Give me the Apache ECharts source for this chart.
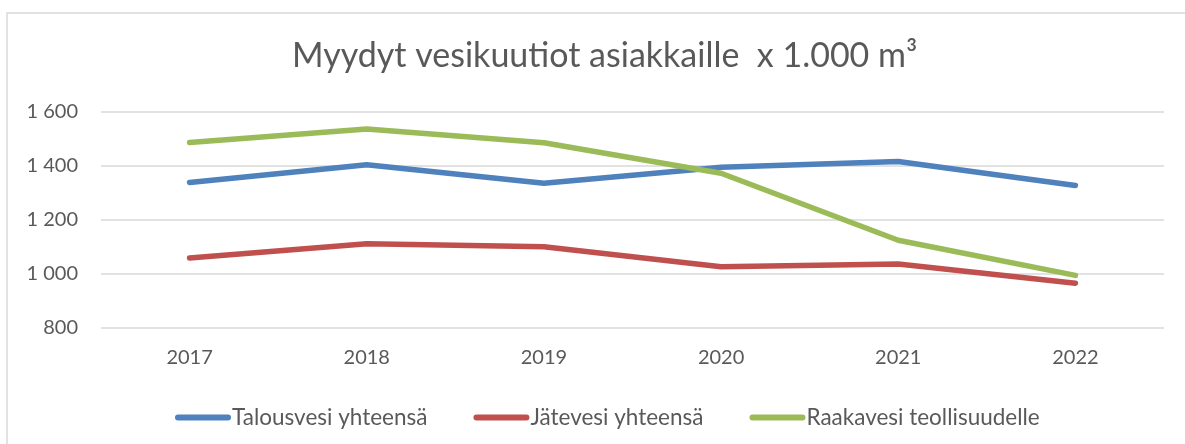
<!DOCTYPE html>
<html>
<head>
<meta charset="utf-8">
<script src="https://cdn.jsdelivr.net/npm/echarts@6/dist/echarts.min.js"></script>
<style>
html,body{margin:0;padding:0;background:#fff;}
#chart{width:1185px;height:444px;}
</style>
</head>
<body>
<div id="chart"></div>
<script>
const categories = ['2017', '2018', '2019', '2020', '2021', '2022'];
const talousvesi = [1339, 1405, 1336, 1395, 1417, 1328];
const jatevesi = [1059, 1112, 1101, 1027, 1037, 966];
const raakavesi = [1487, 1537, 1486, 1373, 1125, 995];
const seriesNames = ['Talousvesi yhteensä', 'Jätevesi yhteensä', 'Raakavesi teollisuudelle'];
const seriesColors = ['#4f81bd', '#c0504d', '#9bbb59'];
const titleText = 'Myydyt vesikuutiot asiakkaille  x 1.000 m³';

const FONT = 'Lato';
const chart = echarts.init(document.getElementById('chart'));
const mk = (name, data, color) => ({
  name, type: 'line', data, showSymbol: false, symbol: 'none',
  lineStyle: { color, width: 5.5, cap: 'round', join: 'round' },
  itemStyle: { color }
});
chart.setOption({
  animation: false,
  backgroundColor: '#fff',
  graphic: [{
    type: 'rect', silent: true,
    shape: { x: 7, y: 13, width: 1400, height: 800 },
    style: { fill: 'none', stroke: '#d9d9d9', lineWidth: 1.5 }
  }],
  title: {
    text: titleText, left: 287, top: 34,
    textStyle: { fontFamily: FONT, fontSize: 34, fontWeight: 'normal', color: '#595959' }
  },
  grid: { left: 101, right: 21, top: 112, bottom: 116, containLabel: false },
  legend: {
    data: seriesNames, top: 401, left: 170,
    itemWidth: 56, itemHeight: 6, itemGap: 46,
    icon: 'path://M3,0 L53,0 A3,3 0 0 1 53,6 L3,6 A3,3 0 0 1 3,0 Z',
    textStyle: { fontFamily: FONT, fontSize: 22.5, color: '#595959', padding: [0, 0, 0, -4] }
  },
  xAxis: {
    type: 'category', data: categories, boundaryGap: true,
    axisLine: { show: false }, axisTick: { show: false },
    axisLabel: { fontFamily: FONT, fontSize: 20, color: '#595959', margin: 20 }
  },
  yAxis: {
    type: 'value', min: 800, max: 1600, interval: 200,
    axisLine: { show: false }, axisTick: { show: false },
    splitLine: { lineStyle: { color: '#d9d9d9', width: 1.5 } },
    axisLabel: {
      fontFamily: FONT, fontSize: 20, color: '#595959', margin: 23,
      formatter: v => String(v).replace(/\B(?=(\d{3})+(?!\d))/g, ' ')
    }
  },
  series: [
    mk(seriesNames[0], talousvesi, seriesColors[0]),
    mk(seriesNames[1], jatevesi, seriesColors[1]),
    mk(seriesNames[2], raakavesi, seriesColors[2])
  ]
});
</script>
</body>
</html>
